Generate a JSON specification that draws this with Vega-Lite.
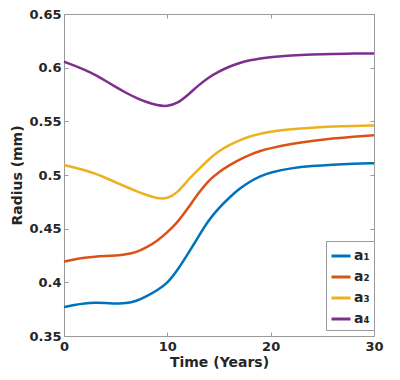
{
  "$schema": "https://vega.github.io/schema/vega-lite/v6.json",
  "width": 310,
  "height": 322,
  "autosize": {"type": "none"},
  "padding": {"left": 64, "top": 14, "right": 26, "bottom": 44},
  "background": "white",
  "config": {
    "font": "DejaVu Sans",
    "view": {"stroke": null},
    "axis": {
      "labelFont": "DejaVu Sans",
      "labelFontWeight": "bold",
      "labelFontSize": 13,
      "labelColor": "#262626",
      "labelFlush": false,
      "titleFont": "DejaVu Sans",
      "titleFontWeight": "bold",
      "titleFontSize": 14,
      "titleColor": "#262626",
      "domainColor": "#9a9a9a",
      "tickColor": "#9a9a9a",
      "grid": false
    }
  },
  "data": {
    "values": [
      {"t": 0, "s": "a₁", "r": 0.377}, {"t": 1, "s": "a₁", "r": 0.379}, {"t": 2, "s": "a₁", "r": 0.3805}, {"t": 3, "s": "a₁", "r": 0.381}, {"t": 4, "s": "a₁", "r": 0.3808}, {"t": 5, "s": "a₁", "r": 0.3803}, {"t": 6, "s": "a₁", "r": 0.3803}, {"t": 7, "s": "a₁", "r": 0.3825}, {"t": 8, "s": "a₁", "r": 0.387}, {"t": 9, "s": "a₁", "r": 0.3925}, {"t": 10, "s": "a₁", "r": 0.399}, {"t": 11, "s": "a₁", "r": 0.4115}, {"t": 12, "s": "a₁", "r": 0.4265}, {"t": 13, "s": "a₁", "r": 0.4425}, {"t": 14, "s": "a₁", "r": 0.458}, {"t": 15, "s": "a₁", "r": 0.4695}, {"t": 16, "s": "a₁", "r": 0.479}, {"t": 17, "s": "a₁", "r": 0.4875}, {"t": 18, "s": "a₁", "r": 0.494}, {"t": 19, "s": "a₁", "r": 0.499}, {"t": 20, "s": "a₁", "r": 0.5025}, {"t": 22, "s": "a₁", "r": 0.5065}, {"t": 24, "s": "a₁", "r": 0.5085}, {"t": 26, "s": "a₁", "r": 0.5097}, {"t": 28, "s": "a₁", "r": 0.5105}, {"t": 30, "s": "a₁", "r": 0.511},
      {"t": 0, "s": "a₂", "r": 0.4192}, {"t": 1, "s": "a₂", "r": 0.4215}, {"t": 2, "s": "a₂", "r": 0.423}, {"t": 3, "s": "a₂", "r": 0.424}, {"t": 4, "s": "a₂", "r": 0.4245}, {"t": 5, "s": "a₂", "r": 0.425}, {"t": 6, "s": "a₂", "r": 0.426}, {"t": 7, "s": "a₂", "r": 0.428}, {"t": 8, "s": "a₂", "r": 0.4325}, {"t": 9, "s": "a₂", "r": 0.4385}, {"t": 10, "s": "a₂", "r": 0.4465}, {"t": 11, "s": "a₂", "r": 0.456}, {"t": 12, "s": "a₂", "r": 0.469}, {"t": 13, "s": "a₂", "r": 0.483}, {"t": 14, "s": "a₂", "r": 0.495}, {"t": 15, "s": "a₂", "r": 0.503}, {"t": 16, "s": "a₂", "r": 0.509}, {"t": 17, "s": "a₂", "r": 0.5145}, {"t": 18, "s": "a₂", "r": 0.519}, {"t": 19, "s": "a₂", "r": 0.5225}, {"t": 20, "s": "a₂", "r": 0.525}, {"t": 22, "s": "a₂", "r": 0.529}, {"t": 24, "s": "a₂", "r": 0.5318}, {"t": 26, "s": "a₂", "r": 0.534}, {"t": 28, "s": "a₂", "r": 0.5357}, {"t": 30, "s": "a₂", "r": 0.537},
      {"t": 0, "s": "a₃", "r": 0.5093}, {"t": 1, "s": "a₃", "r": 0.507}, {"t": 2, "s": "a₃", "r": 0.5045}, {"t": 3, "s": "a₃", "r": 0.5015}, {"t": 4, "s": "a₃", "r": 0.4975}, {"t": 5, "s": "a₃", "r": 0.4932}, {"t": 6, "s": "a₃", "r": 0.489}, {"t": 7, "s": "a₃", "r": 0.485}, {"t": 8, "s": "a₃", "r": 0.4812}, {"t": 9, "s": "a₃", "r": 0.4782}, {"t": 10, "s": "a₃", "r": 0.4778}, {"t": 11, "s": "a₃", "r": 0.4835}, {"t": 12, "s": "a₃", "r": 0.4955}, {"t": 13, "s": "a₃", "r": 0.505}, {"t": 14, "s": "a₃", "r": 0.5145}, {"t": 15, "s": "a₃", "r": 0.5225}, {"t": 16, "s": "a₃", "r": 0.528}, {"t": 17, "s": "a₃", "r": 0.5325}, {"t": 18, "s": "a₃", "r": 0.536}, {"t": 19, "s": "a₃", "r": 0.5385}, {"t": 20, "s": "a₃", "r": 0.5405}, {"t": 22, "s": "a₃", "r": 0.5428}, {"t": 24, "s": "a₃", "r": 0.5442}, {"t": 26, "s": "a₃", "r": 0.5452}, {"t": 28, "s": "a₃", "r": 0.5458}, {"t": 30, "s": "a₃", "r": 0.5462},
      {"t": 0, "s": "a₄", "r": 0.6056}, {"t": 1, "s": "a₄", "r": 0.602}, {"t": 2, "s": "a₄", "r": 0.598}, {"t": 3, "s": "a₄", "r": 0.5935}, {"t": 4, "s": "a₄", "r": 0.5878}, {"t": 5, "s": "a₄", "r": 0.582}, {"t": 6, "s": "a₄", "r": 0.5765}, {"t": 7, "s": "a₄", "r": 0.5718}, {"t": 8, "s": "a₄", "r": 0.5678}, {"t": 9, "s": "a₄", "r": 0.5648}, {"t": 10, "s": "a₄", "r": 0.5638}, {"t": 11, "s": "a₄", "r": 0.5668}, {"t": 12, "s": "a₄", "r": 0.5745}, {"t": 13, "s": "a₄", "r": 0.5835}, {"t": 14, "s": "a₄", "r": 0.591}, {"t": 15, "s": "a₄", "r": 0.5965}, {"t": 16, "s": "a₄", "r": 0.601}, {"t": 17, "s": "a₄", "r": 0.6045}, {"t": 18, "s": "a₄", "r": 0.607}, {"t": 19, "s": "a₄", "r": 0.6087}, {"t": 20, "s": "a₄", "r": 0.61}, {"t": 22, "s": "a₄", "r": 0.6115}, {"t": 24, "s": "a₄", "r": 0.6123}, {"t": 26, "s": "a₄", "r": 0.6128}, {"t": 28, "s": "a₄", "r": 0.6131}, {"t": 30, "s": "a₄", "r": 0.6133}
    ]
  },
  "layer": [
    {
      "mark": {"type": "line", "strokeOpacity": 0},
      "encoding": {
        "x": {"field": "t", "type": "quantitative", "scale": {"domain": [0, 30], "nice": false},
              "axis": {"orient": "top", "labels": false, "title": null, "values": [0, 10, 20, 30], "tickSize": -4, "domain": true}},
        "y": {"field": "r", "type": "quantitative", "scale": {"domain": [0.35, 0.65], "nice": false, "zero": false},
              "axis": {"orient": "right", "labels": false, "title": null, "values": [0.35, 0.4, 0.45, 0.5, 0.55, 0.6, 0.65], "tickSize": -4, "domain": true}},
        "detail": {"field": "s"}
      }
    },
    {
      "mark": {"type": "line", "strokeWidth": 2.5, "interpolate": "basis"},
      "encoding": {
        "x": {"field": "t", "type": "quantitative", "scale": {"domain": [0, 30], "nice": false},
              "axis": {"orient": "bottom", "title": "Time (Years)", "values": [0, 10, 20, 30], "tickSize": -4, "labelPadding": 8, "titlePadding": 2}},
        "y": {"field": "r", "type": "quantitative", "scale": {"domain": [0.35, 0.65], "nice": false, "zero": false},
              "axis": {"orient": "left", "title": "Radius (mm)", "format": ".2~f", "values": [0.35, 0.4, 0.45, 0.5, 0.55, 0.6, 0.65], "tickSize": -4, "labelPadding": 7, "titlePadding": 4}},
        "color": {
          "field": "s", "type": "nominal",
          "scale": {"domain": ["a₁", "a₂", "a₃", "a₄"], "range": ["#0072BD", "#D95319", "#EDB120", "#7E2F8E"]},
          "legend": {
            "title": null,
            "orient": "none",
            "legendX": 262,
            "legendY": 227,
            "symbolType": "stroke",
            "symbolSize": 361,
            "symbolStrokeWidth": 3,
            "labelFont": "DejaVu Sans",
            "labelFontWeight": "bold",
            "labelFontSize": 14,
            "labelColor": "#262626",
            "labelOffset": 2,
            "rowPadding": 3,
            "padding": 4,
            "strokeColor": "#9a9a9a",
            "fillColor": "white"
          }
        }
      }
    }
  ],
  "resolve": {"axis": {"x": "independent", "y": "independent"}}
}
